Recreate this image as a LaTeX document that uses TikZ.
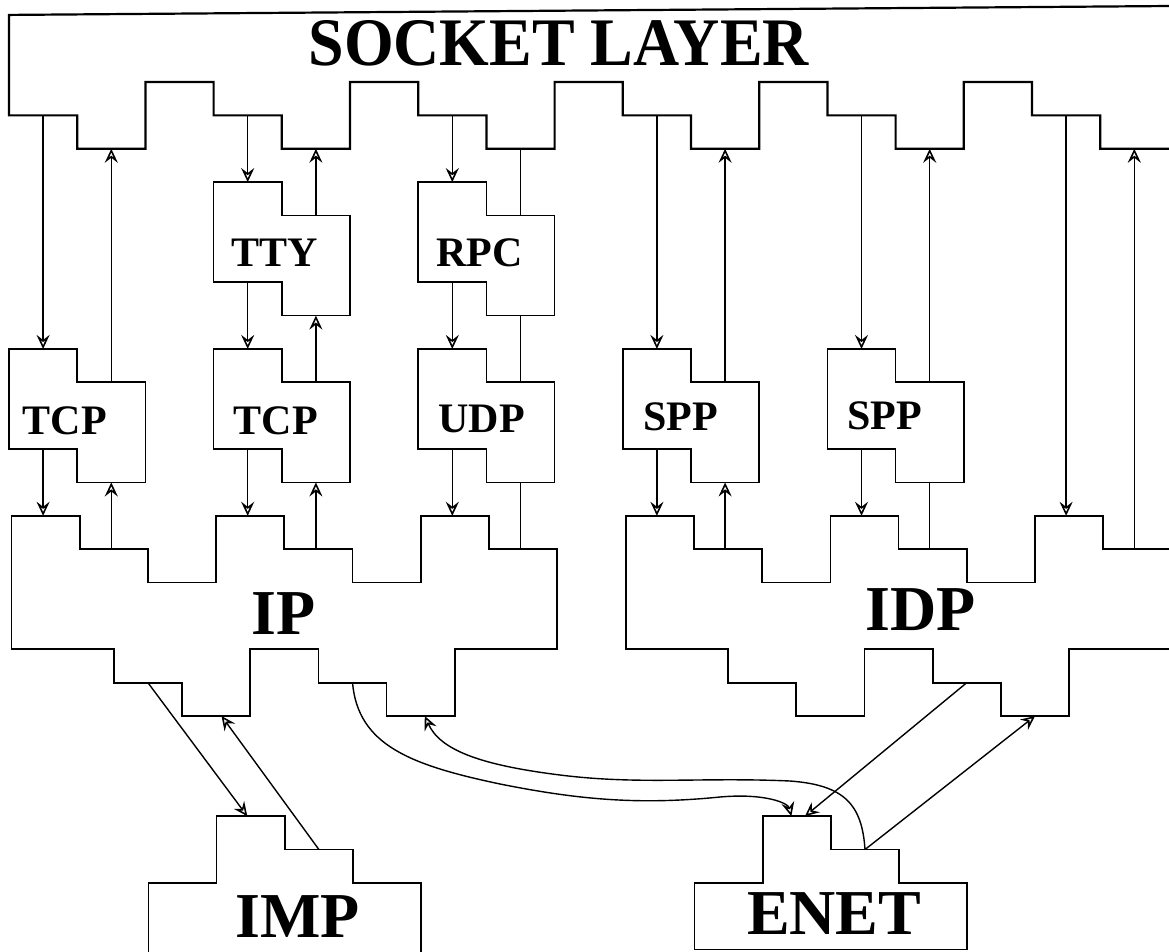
\documentclass[tikz,border=0pt]{standalone}
\usepackage{fontspec}
\setmainfont{Liberation Serif}
\usetikzlibrary{arrows.meta}
\begin{document}
\begin{tikzpicture}[x=1pt, y=-1pt,
  sockline/.style={line width=2.2pt, line join=miter},
  piece/.style={line width=1.7pt, line join=miter},
  link/.style={line width=1.4pt},
  arr/.style={link, -{Stealth[open, length=14pt, width=13pt, inset=5pt, line width=1.6pt]}},
  small/.style={inner sep=0pt, font=\bfseries\fontsize{42}{44}\selectfont},
  large/.style={inner sep=0pt, font=\bfseries\fontsize{64}{66}\selectfont},
  title/.style={inner sep=0pt, font=\bfseries\fontsize{68}{70}\selectfont, xscale=0.94},
  puzzle/.pic={
    \draw[piece] (0,0) -- (1,0) -- (1,1) -- (2,1) -- (2,4) -- (1,4) -- (1,3) -- (0,3) -- cycle;
    \coordinate (-in) at (0.5,0);
    \coordinate (-up) at (1.5,1);
    \coordinate (-dn) at (0.5,3);
    \coordinate (-lo) at (1.5,4);
  }
]
\useasboundingbox (0,0) rectangle (1169,952);

% grid: one column = 68.2pt, one step = 33.37pt
\begin{scope}[x=68.2pt, y=-33.37pt, shift={(9pt,-82pt)}]
  % socket layer with its stepped lower edge
  \draw[sockline] (17.2,-2.28) -- (0,-2.01) -- (0,1) -- (1,1) -- (1,2) -- (2,2) -- (2,0)
    -- (3,0) -- (3,1) -- (4,1) -- (4,2) -- (5,2) -- (5,0) -- (6,0) -- (6,1) -- (7,1)
    -- (7,2) -- (8,2) -- (8,0) -- (9,0) -- (9,1) -- (10,1) -- (10,2) -- (11,2) -- (11,0)
    -- (12,0) -- (12,1) -- (13,1) -- (13,2) -- (14,2) -- (14,0) -- (15,0) -- (15,1)
    -- (16,1) -- (16,2) -- (17.2,2);
  \node[title] (sock) at (8.06,-1.17) {SOCKET LAYER};

  \foreach \c/\i in {A/0, B/3, C/6, D/9, E/12, F/15} {
    \coordinate (\c-s-dn) at (\i+0.5,1);
    \coordinate (\c-s-up) at (\i+1.5,2);
  }
  \foreach \c/\i in {A/0, B/3, C/6} {
    \coordinate (ip-\c-in) at (\i+0.5,13);
    \coordinate (ip-\c-up) at (\i+1.5,14);
  }
  \foreach \c/\i in {D/9, E/12, F/15} {
    \coordinate (idp-\c-in) at (\i+0.5,13);
    \coordinate (idp-\c-up) at (\i+1.5,14);
  }

  % protocol pieces
  \pic (tcpA) at (0,8) {puzzle};
  \pic (tty)  at (3,3) {puzzle};
  \pic (tcpB) at (3,8) {puzzle};
  \pic (rpc)  at (6,3) {puzzle};
  \pic (udp)  at (6,8) {puzzle};
  \pic (sppA) at (9,8) {puzzle};
  \pic (sppB) at (12,8) {puzzle};

  \node[small] (tcpA-t) at (0.82,10.16) {TCP};
  \node[small] (tty-t)  at (3.90,5.12) {TTY};
  \node[small] (tcpB-t) at (3.91,10.16) {TCP};
  \node[small] (rpc-t)  at (6.90,5.11) {RPC};
  \node[small] (udp-t)  at (6.93,10.10) {UDP};
  \node[small] (sppA-t) at (9.85,10.04) {SPP};
  \node[small] (sppB-t) at (12.84,10.00) {SPP};

  % IP
  \begin{scope}[xshift=2.5pt]
    \draw[piece] (0,13) -- (1,13) -- (1,14) -- (2,14) -- (2,15) -- (3,15) -- (3,13) -- (4,13)
      -- (4,14) -- (5,14) -- (5,15) -- (6,15) -- (6,13) -- (7,13) -- (7,14) -- (8,14)
      -- (8,17) -- (6.5,17) -- (6.5,19) -- (5.5,19) -- (5.5,18) -- (4.5,18) -- (4.5,17)
      -- (3.5,17) -- (3.5,19) -- (2.5,19) -- (2.5,18) -- (1.5,18) -- (1.5,17) -- (0,17) -- cycle;
    \coordinate (ip-imp-out)  at (2,18);
    \coordinate (ip-imp-in)   at (3.08,19);
    \coordinate (ip-enet-out) at (5,18);
    \coordinate (ip-enet-in)  at (6.06,19);
  \end{scope}
  \node[large] (ip-t) at (4.03,15.93) {IP};

  % IDP
  \begin{scope}[xshift=3pt]
    \draw[piece] (17.2,14) -- (16,14) -- (16,13) -- (15,13) -- (15,15) -- (14,15) -- (14,14)
      -- (13,14) -- (13,13) -- (12,13) -- (12,15) -- (11,15) -- (11,14) -- (10,14) -- (10,13)
      -- (9,13) -- (9,17) -- (10.5,17) -- (10.5,18) -- (11.5,18) -- (11.5,19) -- (12.5,19)
      -- (12.5,17) -- (13.5,17) -- (13.5,18) -- (14.5,18) -- (14.5,19) -- (15.5,19)
      -- (15.5,17) -- (17.2,17);
    \coordinate (idp-enet-out) at (14,18);
    \coordinate (idp-enet-in)  at (15,19);
  \end{scope}
  \node[large] (idp-t) at (13.37,15.82) {IDP};

  % IMP
  \begin{scope}[xshift=3pt]
    \draw[piece] (2,26.3) -- (2,24) -- (3,24) -- (3,22) -- (4,22) -- (4,23) -- (5,23)
      -- (5,24) -- (6,24) -- (6,26.3);
    \coordinate (imp-in)  at (3.45,22);
    \coordinate (imp-out) at (4.5,23);
  \end{scope}
  \node[large] (imp-t) at (4.23,25.0) {IMP};

  % ENET
  \begin{scope}[xshift=3.5pt]
    \draw[piece] (10,26) -- (10,24) -- (11,24) -- (11,22) -- (12,22) -- (12,23) -- (13,23)
      -- (13,24) -- (14,24) -- (14,26) -- cycle;
    \coordinate (enet-in-a) at (11.42,22);
    \coordinate (enet-in-b) at (11.62,22);
    \coordinate (enet-out)  at (12.5,23);
  \end{scope}
  \node[large] (enet-t) at (12.1,24.93) {ENET};
\end{scope}

% TCP column
\draw[arr] (A-s-dn) -- (tcpA-in);
\draw[arr] (tcpA-up) -- (A-s-up);
\draw[arr] (tcpA-dn) -- (ip-A-in);
\draw[arr] (ip-A-up) -- (tcpA-lo);
% TTY / TCP column
\draw[arr] (B-s-dn) -- (tty-in);
\draw[arr] (tty-up) -- (B-s-up);
\draw[arr] (tty-dn) -- (tcpB-in);
\draw[arr] (tcpB-up) -- (tty-lo);
\draw[arr] (tcpB-dn) -- (ip-B-in);
\draw[arr] (ip-B-up) -- (tcpB-lo);
% RPC / UDP column
\draw[arr] (C-s-dn) -- (rpc-in);
\draw[link] (rpc-up) -- (C-s-up);
\draw[arr] (rpc-dn) -- (udp-in);
\draw[link] (udp-up) -- (rpc-lo);
\draw[arr] (udp-dn) -- (ip-C-in);
\draw[link] (ip-C-up) -- (udp-lo);
% first SPP column
\draw[arr] (D-s-dn) -- (sppA-in);
\draw[arr] (sppA-up) -- (D-s-up);
\draw[arr] (sppA-dn) -- (idp-D-in);
\draw[arr] (idp-D-up) -- (sppA-lo);
% second SPP column
\draw[arr] (E-s-dn) -- (sppB-in);
\draw[arr] (sppB-up) -- (E-s-up);
\draw[arr] (sppB-dn) -- (idp-E-in);
\draw[link] (idp-E-up) -- (sppB-lo);
% raw IDP column
\draw[arr] (F-s-dn) -- (idp-F-in);
\draw[arr] (idp-F-up) -- (F-s-up);

% interfaces
\draw[arr] (ip-imp-out) -- (imp-in);
\draw[arr] (imp-out) -- (ip-imp-in);
\draw[arr] (ip-enet-out) .. controls (358,745) and (410,765) .. (500,784)
  .. controls (580,800) and (640,805) .. (720,797)
  .. controls (765,793) and (788,803) .. (enet-in-a);
\draw[arr] (enet-out) .. controls (862,805) and (845,785) .. (790,781)
  .. controls (700,777) and (640,785) .. (560,775)
  .. controls (480,765) and (440,750) .. (ip-enet-in);
\draw[arr] (idp-enet-out) -- (enet-in-b);
\draw[arr] (enet-out) -- (idp-enet-in);
\end{tikzpicture}
\end{document}
